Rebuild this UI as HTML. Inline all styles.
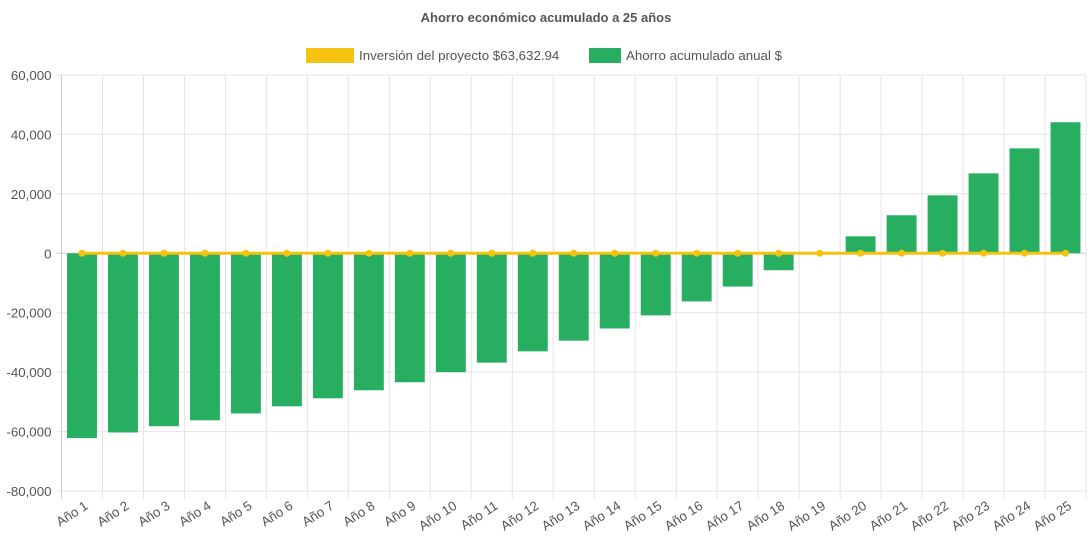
<!DOCTYPE html>
<html><head><meta charset="utf-8"><style>
body{margin:0;background:#fff;width:1092px;height:545px;overflow:hidden;font-family:"Liberation Sans",Arial,sans-serif}
</style></head><body>
<svg id="chart" width="1092" height="545" xmlns="http://www.w3.org/2000/svg">
<text x="546" y="22" text-anchor="middle" font-size="13" font-weight="bold" fill="#555">Ahorro económico acumulado a 25 años</text>
<g><rect x="306" y="48" width="48" height="15" fill="#f5c30f"/><text x="359" y="60" font-size="13.3" fill="#555">Inversión del proyecto $63,632.94</text></g>
<g><rect x="589" y="48" width="32" height="15" fill="#28ae60"/><text x="626" y="60" font-size="13.3" fill="#555">Ahorro acumulado anual $</text></g>
<g id="grid"></g><g id="bars"></g><g id="line"></g><g id="labels"></g>
</svg>
<script>
const categories=["Año 1","Año 2","Año 3","Año 4","Año 5","Año 6","Año 7","Año 8","Año 9","Año 10","Año 11","Año 12","Año 13","Año 14","Año 15","Año 16","Año 17","Año 18","Año 19","Año 20","Año 21","Año 22","Año 23","Año 24","Año 25"];
const savings=[-62200,-60300,-58200,-56200,-53900,-51500,-48800,-46100,-43400,-40000,-36800,-33000,-29400,-25300,-20900,-16200,-11200,-5700,-100,5700,12800,19500,26900,35300,44100];
const investmentLine=[0,0,0,0,0,0,0,0,0,0,0,0,0,0,0,0,0,0,0,0,0,0,0,0,0];
const yTicks=[60000,40000,20000,0,-20000,-40000,-60000,-80000];
const NS="http://www.w3.org/2000/svg";
const L=61.5,R=1086,T=75,B=491,yMax=60000,yMin=-80000;
const y=v=>T+(yMax-v)/(yMax-yMin)*(B-T);
const cw=(R-L)/categories.length;
const xc=i=>L+cw*(i+0.5);
function mk(tag,attrs,parent){const e=document.createElementNS(NS,tag);for(const k in attrs)e.setAttribute(k,attrs[k]);document.getElementById(parent).appendChild(e);return e;}
yTicks.forEach(t=>{
  const g=mk('line',{x1:L-5,x2:R,y1:y(t),y2:y(t),stroke:t===0?'#ccc':'#e4e4e4','stroke-width':1},'grid');
  
  
  const tx=mk('text',{x:L-10,y:y(t)+5,'text-anchor':'end','font-size':13.3,fill:'#555'},'grid');
  tx.textContent=t.toLocaleString('en-US');
  
  
});
for(let i=0;i<=categories.length;i++){
  const x=L+cw*i;
  const g=mk('line',{x1:x,x2:x,y1:T,y2:B+8,stroke:i===0?'#ccc':'#e4e4e4','stroke-width':1},'grid');
  
  
}
categories.forEach((c,i)=>{
  const bw=cw*0.73,v=savings[i];
  const r=mk('rect',{x:xc(i)-bw/2,y:Math.min(y(v),y(0)),width:bw,height:Math.abs(y(v)-y(0)),fill:'#28ae60'},'bars');
  
  
  const t=mk('text',{x:0,y:0,'text-anchor':'end','font-size':13.3,fill:'#555',transform:`translate(${xc(i)+7},${B+17}) rotate(-33)`},'labels');
  t.textContent=c;
  
  
});
const pts=investmentLine.map((v,i)=>xc(i)+','+y(v)).join(' ');
const pl=mk('polyline',{points:pts,fill:'none',stroke:'#f5c30f','stroke-width':3},'line');


investmentLine.forEach((v,i)=>{
  const c=mk('circle',{cx:xc(i),cy:y(v),r:3.5,fill:'#f5c30f'},'line');
  
  
});
</script>
</body></html>
